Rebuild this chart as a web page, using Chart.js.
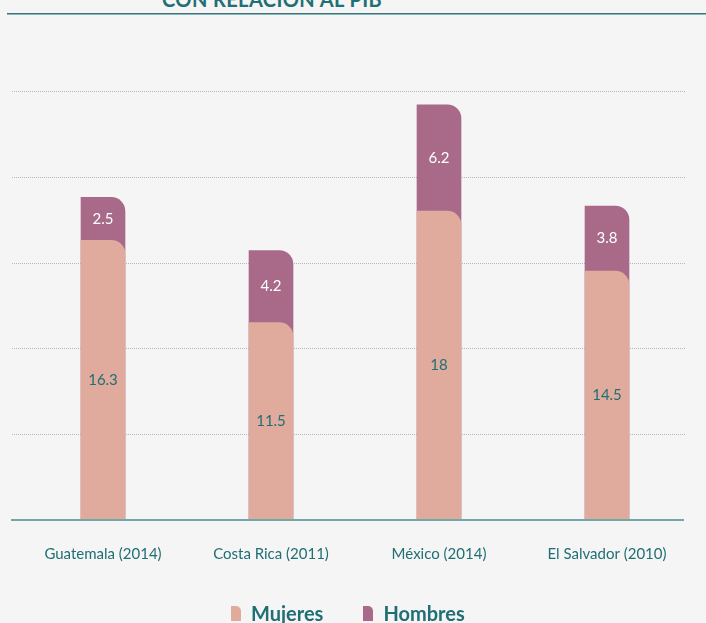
<!DOCTYPE html>
<html>
<head>
<meta charset="utf-8">
<script src="https://cdn.jsdelivr.net/npm/chart.js@4.4.0/dist/chart.umd.min.js"></script>
<style>
    html, body { margin: 0; padding: 0; background: #f5f5f5; overflow: hidden; }
    #wrap { position: relative; width: 706px; height: 623px; }
    #chart { position: absolute; left: 0; top: 0; }
    #title {
        position: absolute; left: 162px; top: -11px;
        font: 700 20px Lato, sans-serif; line-height: 20px;
        color: #1f6f74; letter-spacing: 0.4px; white-space: nowrap;
    }
    #rule {
        position: absolute; left: 7px; right: 0; top: 13px; height: 1px;
        background: #3f7378; border-bottom: 1px solid #86b9ba;
    }
    #legend {
        position: absolute; left: 231px; top: 601px;
        display: flex; align-items: center;
        font: 700 20px Lato, sans-serif; color: #1f6f74; white-space: nowrap;
    }
    .item { display: flex; align-items: center; margin-right: 40px; }
    .swatch { width: 10px; height: 15px; border-top-right-radius: 5px; margin-right: 10px; }
</style>
</head>
<body>
<div id="wrap">
    <div id="title">CON RELACIÓN AL PIB</div>
    <div id="rule"></div>
    <canvas id="chart" width="706" height="623"></canvas>
    <div id="legend"></div>
</div>
<script>
// Values
const categories = ['Guatemala (2014)', 'Costa Rica (2011)', 'México (2014)', 'El Salvador (2010)'];
const mujeres = [16.3, 11.5, 18, 14.5];
const hombres = [2.5, 4.2, 6.2, 3.8];
const gridValues = [5, 10, 15, 20, 25];

const TEAL = '#1f6f74';
const PINK = '#e0ab9d';
const PLUM = '#a96a8a';

// dotted guide lines and the solid baseline, drawn from the y scale
const backdrop = {
    id: 'backdrop',
    beforeDatasetsDraw(chart) {
        const { ctx, scales: { y } } = chart;
        ctx.save();
        ctx.strokeStyle = '#b9b9b9';
        ctx.lineWidth = 1;
        ctx.setLineDash([1, 1]);
        gridValues.forEach(v => {
            const py = Math.round(y.getPixelForValue(v)) + 0.5;
            ctx.beginPath();
            ctx.moveTo(12, py);
            ctx.lineTo(686, py);
            ctx.stroke();
        });
        ctx.restore();
    },
    afterDatasetsDraw(chart) {
        const { ctx, scales: { y } } = chart;
        ctx.save();
        const py = y.getPixelForValue(0);
        ctx.strokeStyle = '#73a6a7';
        ctx.lineWidth = 2;
        ctx.beginPath();
        ctx.moveTo(11, py);
        ctx.lineTo(684, py);
        ctx.stroke();

        // value labels in the middle of each segment
        ctx.font = '400 15px Lato, sans-serif';
        ctx.textAlign = 'center';
        ctx.textBaseline = 'middle';
        const bars = chart.getDatasetMeta(0).data;
        bars.forEach((bar, i) => {
            const m = mujeres[i], h = hombres[i];
            ctx.fillStyle = TEAL;
            ctx.fillText(String(m), bar.x, y.getPixelForValue(m / 2));
            ctx.fillStyle = '#ffffff';
            ctx.fillText(String(h), bar.x, y.getPixelForValue(m + h / 2));
        });
        ctx.restore();
    }
};

const ctx = document.getElementById('chart').getContext('2d');
const chart = new Chart(ctx, {
    type: 'bar',
    data: {
        labels: categories,
        datasets: [
            { label: 'Mujeres', data: mujeres, backgroundColor: PINK },
            { label: 'Hombres', data: mujeres.map((m, i) => [0, m + hombres[i]]), backgroundColor: PLUM }
        ]
    },
    options: {
        responsive: false,
        animation: false,
        devicePixelRatio: 1,
        layout: { padding: { top: 91, left: 19, right: 15, bottom: 35 } },
        datasets: {
            bar: {
                grouped: false,
                barThickness: 44,
                borderWidth: 0,
                borderSkipped: false,
                borderRadius: { topLeft: 0, topRight: 14, bottomLeft: 0, bottomRight: 0 }
            }
        },
        scales: {
            x: {
                grid: { display: false, drawTicks: false },
                border: { display: false },
                ticks: { color: TEAL, padding: 25, font: { family: 'Lato', size: 15 } }
            },
            y: { display: false, min: 0, max: 25 }
        },
        plugins: {
            legend: { display: false },
            tooltip: { enabled: false }
        }
    },
    plugins: [backdrop]
});

// legend built from the datasets
const legend = document.getElementById('legend');
chart.data.datasets.forEach(ds => {
    const item = document.createElement('div');
    item.className = 'item';
    const sw = document.createElement('span');
    sw.className = 'swatch';
    sw.style.background = ds.backgroundColor;
    item.appendChild(sw);
    item.appendChild(document.createTextNode(ds.label));
    legend.appendChild(item);
});
</script>
</body>
</html>
